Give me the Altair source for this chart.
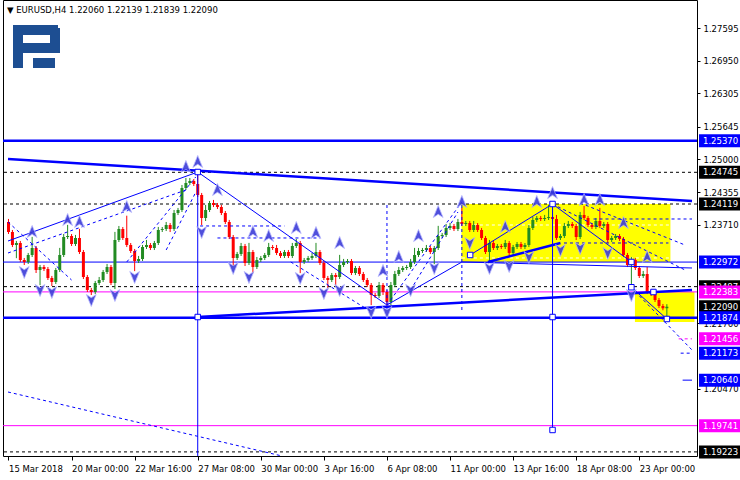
import altair as alt
import pandas as pd

# ---------------- data ----------------
title_text = "▼ EURUSD,H4  1.22060 1.22139 1.21839 1.22090"

first_open = 1.23764
closes = [
    1.23566, 1.23309, 1.23349, 1.23013, 1.22974, 1.23112, 1.23250, 1.22816, 1.22875, 1.22835,
    1.22658, 1.22579, 1.22816, 1.23112, 1.23467, 1.23487, 1.23329, 1.23448, 1.23171, 1.22677,
    1.22421, 1.22381, 1.22559, 1.22618, 1.22776, 1.22875, 1.22559, 1.23408, 1.23625, 1.23448,
    1.23309, 1.23191, 1.22993, 1.23033, 1.23270, 1.23309, 1.23250, 1.23349, 1.23606, 1.23625,
    1.23704, 1.23625, 1.23941, 1.24001, 1.24435, 1.24534, 1.24573, 1.24514, 1.24297, 1.23843,
    1.24001, 1.24139, 1.24099, 1.24060, 1.23941, 1.23764, 1.23467, 1.23053, 1.23132, 1.23290,
    1.22954, 1.23171, 1.22875, 1.23013, 1.23053, 1.23112, 1.23270, 1.23250, 1.23151, 1.23092,
    1.23171, 1.23092, 1.23290, 1.23349, 1.22974, 1.23013, 1.23053, 1.23092, 1.23171, 1.22954,
    1.22658, 1.22618, 1.22717, 1.22677, 1.22914, 1.22974, 1.22993, 1.22756, 1.22855, 1.22737,
    1.22618, 1.22519, 1.22322, 1.22302, 1.22519, 1.22381, 1.22184, 1.22519, 1.22737, 1.22816,
    1.22855, 1.22875, 1.22974, 1.23112, 1.23191, 1.23211, 1.23250, 1.23171, 1.23250, 1.23487,
    1.23507, 1.23645, 1.23685, 1.23625, 1.23764, 1.23724, 1.23744, 1.23606, 1.23704, 1.23606,
    1.23448, 1.23171, 1.23349, 1.23250, 1.23290, 1.23270, 1.23349, 1.23151, 1.23270, 1.23329,
    1.23270, 1.23309, 1.23645, 1.23803, 1.23843, 1.23823, 1.23843, 1.23862, 1.23823, 1.23448,
    1.23487, 1.23685, 1.23724, 1.23685, 1.23467, 1.23902, 1.23843, 1.23704, 1.23665, 1.23783,
    1.23685, 1.23724, 1.23408, 1.23448, 1.23487, 1.23428, 1.23112, 1.22914, 1.23013, 1.22855,
    1.22697, 1.22737, 1.22381, 1.22342, 1.22223, 1.22105, 1.22060, 1.22090,
]
up_wick_pips = [
    6, 4, 4, 4, 4, 4, 22, 4, 4, 4,
    4, 4, 4, 14, 6, 22, 4, 6, 18, 4,
    4, 4, 4, 6, 4, 6, 4, 16, 6, 4,
    44, 4, 4, 6, 4, 10, 4, 4, 6, 4,
    6, 4, 6, 4, 6, 10, 6, 4, 22, 4,
    10, 4, 6, 4, 4, 4, 4, 4, 4, 6,
    4, 18, 4, 6, 4, 4, 8, 4, 6, 4,
    4, 4, 6, 8, 4, 4, 4, 6, 18, 4,
    4, 4, 4, 4, 20, 6, 4, 4, 4, 4,
    4, 4, 4, 4, 6, 4, 4, 6, 6, 6,
    4, 4, 6, 14, 6, 4, 6, 4, 4, 20,
    4, 8, 6, 4, 6, 28, 4, 4, 8, 4,
    4, 4, 6, 4, 4, 4, 6, 4, 4, 4,
    4, 4, 6, 6, 4, 4, 6, 24, 4, 8,
    4, 6, 6, 4, 4, 6, 18, 4, 4, 6,
    26, 4, 4, 4, 4, 4, 4, 4, 6, 4,
    4, 6, 14, 4, 4, 4, 4, 5,
]
down_wick_pips = [
    4, 4, 26, 4, 6, 4, 4, 6, 30, 4,
    4, 8, 4, 4, 4, 4, 4, 4, 4, 4,
    4, 6, 4, 4, 4, 4, 4, 12, 4, 4,
    4, 4, 20, 4, 4, 4, 4, 4, 4, 4,
    4, 6, 4, 4, 4, 4, 4, 4, 4, 14,
    6, 4, 4, 4, 4, 4, 4, 16, 4, 4,
    6, 4, 12, 4, 4, 4, 4, 4, 4, 4,
    4, 4, 4, 4, 22, 4, 4, 4, 4, 4,
    4, 16, 4, 16, 4, 4, 4, 4, 4, 4,
    4, 4, 20, 4, 4, 6, 8, 6, 4, 4,
    4, 4, 4, 4, 4, 4, 4, 4, 24, 4,
    4, 4, 4, 4, 4, 4, 4, 4, 4, 4,
    4, 4, 20, 4, 4, 4, 4, 6, 4, 4,
    4, 4, 4, 4, 4, 4, 4, 4, 4, 4,
    4, 4, 4, 4, 6, 4, 4, 4, 4, 4,
    4, 4, 6, 4, 4, 4, 4, 4, 44, 4,
    4, 4, 4, 4, 4, 4, 4, 22,
]

time_tick_bars = [0, 16, 32, 48, 64, 80, 96, 112, 128, 144, 160]
time_tick_labels = ["15 Mar 2018", "20 Mar 00:00", "22 Mar 16:00", "27 Mar 08:00",
                    "30 Mar 00:00", "3 Apr 16:00", "6 Apr 08:00", "11 Apr 00:00",
                    "13 Apr 16:00", "18 Apr 08:00", "23 Apr 00:00"]
price_ticks = [1.27595, 1.26950, 1.26305, 1.25645, 1.25000, 1.24355, 1.23710,
               1.21760, 1.20470]

x_domain = [-0.125, 173.375]
y_domain = [1.19142, 1.28148]

levels_blue_thick = [1.25370, 1.21874]
levels_blue_thin = [1.22972]
levels_magenta = [1.22383, 1.19741]
levels_black_dashed = [1.24745, 1.24119, 1.22487, 1.19223]

labels_black = [1.24745, 1.24119, 1.22487, 1.22090, 1.19223]
labels_magenta = [1.22383, 1.21456, 1.19741]
labels_blue = [1.25370, 1.22972, 1.21874, 1.21173, 1.20640]

# boxes: bar, bar2, price_top, price_bottom
yellow_boxes = [(114.9, 167.9, 1.24119, 1.22974), (158.9, 174.0, 1.22383, 1.21789)]

# segments: bar, price, bar2, price2
thin_solid_segments = [
    (-0.125, 1.23388, 48, 1.24751), (48, 1.24751, 96, 1.22124), (96, 1.22124, 115, 1.22974),
    (115, 1.22974, 173.375, 1.22855), (117.1, 1.23112, 138, 1.24119),
    (138, 1.24119, 158, 1.22974), (158, 1.22475, 167, 1.21848),
    (171, 1.20640, 173.375, 1.20640),
]
thick_segments = [
    (-0.125, 1.25008, 173.375, 1.24178), (48, 1.21887, 173.375, 1.22421),
    (121.6, 1.22974, 140, 1.23349),
]
dashed_blue_segments = [
    (-0.125, 1.23151, 45, 1.24396), (-0.125, 1.23764, 16, 1.22618),
    (30, 1.22974, 47.5, 1.24653), (40, 1.23211, 47.4, 1.24336),
    (48.6, 1.23685, 70, 1.23685), (53, 1.23448, 79, 1.23448),
    (71.6, 1.22974, 92.1, 1.21986), (96, 1.22124, 115, 1.24159),
    (102, 1.22421, 114, 1.23961), (138, 1.24119, 171.6, 1.22816),
    (145, 1.24139, 171.6, 1.23309), (148.4, 1.23823, 173.375, 1.23823),
    (140.9, 1.23349, 167.4, 1.23349), (157.9, 1.22475, 173.375, 1.21236),
    (-0.125, 1.20406, 69.4, 1.19142), (170.5, 1.21173, 173.375, 1.21173),
]
dashed_magenta_segments = [(170, 1.21456, 173.375, 1.21456)]
dashed_white_segments = [(115, 1.23704, 168, 1.23704), (115, 1.23053, 168, 1.23053)]

# verticals: bar, top, bottom
solid_verticals = [(48, 1.24751, 1.19142), (138, 1.24119, 1.19656)]
dashed_verticals = [(96, 1.24099, 1.21986), (115, 1.24099, 1.21986)]

square_bars = [48, 48, 117.1, 138, 138, 138, 158, 158, 163.6, 167]
square_prices = [1.24751, 1.21887, 1.23112, 1.24119, 1.21887, 1.19656, 1.22974, 1.22475, 1.22381, 1.21848]

up_arrow_bars = [6, 15, 18, 30, 45, 48, 53, 62, 66, 73, 78, 84, 95, 99, 104, 109, 115, 126, 134, 138, 146, 150, 156, 162]
up_arrow_prices = [1.23566, 1.23803, 1.23764, 1.24060, 1.24850, 1.24949, 1.24396, 1.23566, 1.23487, 1.23645,
                   1.23546, 1.23349, 1.22796, 1.23072, 1.23487, 1.23961, 1.24159, 1.23665, 1.24159, 1.24336,
                   1.24198, 1.24198, 1.23744, 1.23072]
down_arrow_bars = [4, 8, 11, 21, 27, 32, 49, 57, 61, 74, 80, 84, 92, 96, 102, 108, 117, 122, 127, 132, 140, 145, 152, 158]
down_arrow_prices = [1.22776, 1.22421, 1.22381, 1.22223, 1.22322, 1.22677, 1.23566, 1.22855, 1.22677, 1.22658,
                     1.22361, 1.22421, 1.21986, 1.21986, 1.22421, 1.22855, 1.23349, 1.22855, 1.22895, 1.23072,
                     1.23211, 1.23250, 1.23151, 1.22322]

# ---------------- build ----------------
FONT = "DejaVu Sans"
FS = 8.5
BLUE = "#0000ff"
MAGENTA = "#ff00ff"
GREEN = "#228b22"
RED = "#ff0000"

xs = alt.Scale(domain=x_domain, nice=False, zero=False)
ys = alt.Scale(domain=y_domain, nice=False, zero=False)

label_expr = "[" + ",".join("'%s'" % t for t in time_tick_labels) + "][round(datum.value/16)]"

X_AXIS = alt.Axis(values=time_tick_bars, labelExpr=label_expr, labelAlign="left",
                  labelPadding=4, tickSize=4, labelFlush=False, labelOverlap=False,
                  labelBound=False, domain=False, grid=False, title=None)
Y_AXIS = alt.Axis(orient="right", values=price_ticks, format=".5f", tickSize=3,
                  labelPadding=3, labelOverlap=False, labelFlush=False, labelBound=False,
                  domain=False, grid=False, zindex=0, title=None)


def X(field):
    return alt.X(field, type="quantitative", scale=xs, axis=X_AXIS, title=None)


def Y(field):
    return alt.Y(field, type="quantitative", scale=ys, axis=Y_AXIS, title=None)


opens = [first_open] + closes[:-1]
candles = pd.DataFrame({
    "bar": list(range(len(closes))),
    "open": opens,
    "close": closes,
    "high": [max(o, c) + u * 0.0001 for o, c, u in zip(opens, closes, up_wick_pips)],
    "low": [min(o, c) - d * 0.0001 for o, c, d in zip(opens, closes, down_wick_pips)],
})

candle_color = alt.condition("datum.close >= datum.open", alt.value(GREEN), alt.value(RED))

wicks = alt.Chart(candles).mark_rule(strokeWidth=1).encode(
    x=X("bar"), y=Y("low"), y2="high:Q", color=candle_color,
)
bodies = alt.Chart(candles).mark_bar(width=3).encode(
    x=X("bar"), y=Y("open"), y2="close:Q", color=candle_color,
)


def seg_df(rows):
    return pd.DataFrame(rows, columns=["x", "y", "x2", "y2"])


def segments(rows, color, width=1.0, dash=None):
    kw = dict(color=color, strokeWidth=width, clip=True)
    if dash:
        kw["strokeDash"] = dash
    return alt.Chart(seg_df(rows)).mark_rule(**kw).encode(
        x=X("x"), x2="x2:Q", y=Y("y"), y2="y2:Q",
    )


def hlines(values, color, width=1.0, dash=None):
    kw = dict(color=color, strokeWidth=width)
    if dash:
        kw["strokeDash"] = dash
    return alt.Chart(pd.DataFrame({"price": values})).mark_rule(**kw).encode(y=Y("price"))


def verticals(rows, color, dash=None):
    kw = dict(color=color, strokeWidth=1, clip=False)
    if dash:
        kw["strokeDash"] = dash
    d = pd.DataFrame(rows, columns=["bar", "top", "bottom"])
    return alt.Chart(d).mark_rule(**kw).encode(x=X("bar"), y=Y("top"), y2="bottom:Q")


boxes_df = pd.DataFrame(yellow_boxes, columns=["x", "x2", "y", "y2"])
yellow = alt.Chart(boxes_df).mark_rect(color="#ffff00", clip=True).encode(
    x=X("x"), x2="x2:Q", y=Y("y"), y2="y2:Q",
)

UP_PATH = "M0,-1L0.75,0.85L0,0.35L-0.75,0.85Z"
DOWN_PATH = "M0,1L0.75,-0.85L0,-0.35L-0.75,-0.85Z"

up_arrows = alt.Chart(pd.DataFrame({"bar": up_arrow_bars, "price": up_arrow_prices})).mark_point(
    shape=UP_PATH, filled=True, fill="#3c3cd8", stroke="#b4b4ff", strokeWidth=0.8, size=170, opacity=0.9
).encode(x=X("bar"), y=Y("price"))

down_arrows = alt.Chart(pd.DataFrame({"bar": down_arrow_bars, "price": down_arrow_prices})).mark_point(
    shape=DOWN_PATH, filled=True, fill="#3c3cd8", stroke="#b4b4ff", strokeWidth=0.8, size=170, opacity=0.9
).encode(x=X("bar"), y=Y("price"))

squares = alt.Chart(pd.DataFrame({"bar": square_bars, "price": square_prices})).mark_point(
    shape="square", filled=True, fill="white", stroke=BLUE, strokeWidth=1, size=30, opacity=1
).encode(x=X("bar"), y=Y("price"))


def price_labels(values, bg):
    d = pd.DataFrame({"price": values})
    box = alt.Chart(d).mark_tick(orient="horizontal", size=41, thickness=13, color=bg, opacity=1).encode(
        x=alt.value(716.5), y=Y("price"))
    txt = alt.Chart(d).mark_text(align="left", baseline="middle", color="white", font=FONT,
                                 fontSize=FS).encode(
        x=alt.value(700), y=Y("price"), text=alt.Text("price:Q", format=".5f"))
    return box + txt


title = alt.Chart(pd.DataFrame({"t": [title_text]})).mark_text(
    align="left", baseline="middle", font=FONT, fontSize=FS, color="black"
).encode(x=alt.value(4), y=alt.value(10), text="t:N")

LOGO = "#1d4e92"


def logo_rect(x0, x1, y0, y1):
    return alt.Chart(pd.DataFrame({"k": [0]})).mark_rect(color=LOGO).encode(
        x=alt.value(x0), x2=alt.value(x1), y=alt.value(y0), y2=alt.value(y1))


logo = (logo_rect(10, 20, 25, 68) + logo_rect(10, 55, 25, 35) + logo_rect(47, 57, 28, 53)
        + logo_rect(20, 57, 43, 53) + logo_rect(30, 52, 58, 68))

chart = alt.layer(
    yellow,
    segments(dashed_white_segments, "white", 1, [3, 3]),
    hlines(levels_black_dashed, "black", 1, [3, 3]),
    hlines(levels_blue_thin, BLUE, 1),
    hlines(levels_magenta, MAGENTA, 1),
    wicks,
    bodies,
    hlines(levels_blue_thick, BLUE, 2.5),
    segments(thick_segments, BLUE, 2.5),
    segments(thin_solid_segments, BLUE, 1),
    segments(dashed_blue_segments, BLUE, 1, [3, 3]),
    segments(dashed_magenta_segments, MAGENTA, 1, [3, 3]),
    verticals(solid_verticals, BLUE),
    verticals(dashed_verticals, BLUE, [3, 3]),
    up_arrows,
    down_arrows,
    squares,
    price_labels(labels_black, "black"),
    price_labels(labels_magenta, MAGENTA),
    price_labels(labels_blue, BLUE),
    title,
    logo,
).properties(
    width=694, height=456,
    autosize=alt.AutoSizeParams(type="none"),
    padding={"left": 3, "top": 0, "right": 43, "bottom": 24},
).configure_view(
    stroke="black", strokeWidth=1
).configure_axis(
    labelFont=FONT, labelFontSize=FS, labelColor="black", tickColor="black"
)

chart.save("out.html", embed_options={"renderer": "svg", "actions": False})
